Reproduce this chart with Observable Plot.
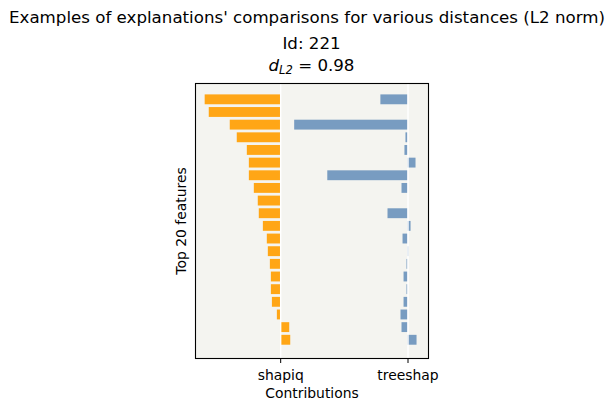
<!DOCTYPE html>
<html>
<head>
<meta charset="utf-8">
<script src="https://cdn.jsdelivr.net/npm/d3@7"></script>
<script src="https://cdn.jsdelivr.net/npm/@observablehq/plot@0.6"></script>
<style>
  body { margin: 0; background: white; }
  #wrap { position: relative; width: 614px; height: 411px; font-family: "DejaVu Sans", sans-serif; color: black; }
  .t { position: absolute; white-space: nowrap; font-size: 16.67px; line-height: 1; transform: translate(-50%, -50%); }
  #chart { position: absolute; left: 0; top: 0; }
</style>
</head>
<body>
<div id="wrap">
  <div id="chart"></div>
  <div class="t" style="left:307px; top:18px;">Examples of explanations' comparisons for various distances (L2 norm)</div>
  <div class="t" style="left:311.5px; top:44px;">Id: 221</div>
  <div class="t" style="left:311.5px; top:67px;"><i>d</i><sub style="font-size:11.5px; vertical-align:-3px;"><i>L2</i></sub> = 0.98</div>
</div>
<script>
// Methods compared, each drawn around its own x position
const groups = ["shapiq", "treeshap"];
const groupColors = ["#ffa616", "#789cc1"];

// Contributions of the top 20 features (rank 1 at the top)
const shapiq = [-0.593, -0.561, -0.396, -0.341, -0.262, -0.246, -0.246, -0.207, -0.176, -0.168,
                -0.136, -0.105, -0.097, -0.081, -0.073, -0.073, -0.065, -0.026, 0.071, 0.079];
const treeshap = [-0.213, 0, -0.890, -0.016, -0.024, 0.063, -0.630, -0.047, 0, -0.157,
                  0.024, -0.039, 0.008, -0.008, -0.031, -0.008, -0.031, -0.055, -0.047, 0.071];

const rows = [shapiq, treeshap].flatMap((vals, g) =>
  vals.map((v, i) => ({group: g, rank: i, value: v}))
);

const chart = Plot.plot({
  width: 614,
  height: 411,
  marginLeft: 195,
  marginRight: 186,
  marginTop: 83,
  marginBottom: 53,
  style: {fontFamily: "DejaVu Sans", fontSize: "13.9px", background: "transparent", color: "black"},
  x: {domain: [-0.669, 1.161]},
  y: {domain: [-1.29, 20.44], reverse: true, axis: null},
  marks: [
    Plot.frame({fill: "#f4f4f0", stroke: null}),
    Plot.rectX(rows, {
      x1: d => d.group,
      x2: d => d.group + d.value,
      y1: d => d.rank - 0.39,
      y2: d => d.rank + 0.39,
      fill: d => groupColors[d.group]
    }),
    Plot.ruleX([0, 1], {stroke: "white", strokeWidth: 1.4}),
    Plot.frame({stroke: "black", strokeWidth: 1.1}),
    Plot.axisX({ticks: [0, 1], tickFormat: i => groups[i], tickSize: 5, tickPadding: 7, label: null}),
    Plot.text(["Contributions"], {frameAnchor: "bottom", dy: 39, text: d => d, fontSize: 13.9}),
    Plot.text(["Top 20 features"], {frameAnchor: "left", dx: -14, rotate: -90, textAnchor: "middle", text: d => d, fontSize: 13.9})
  ]
});
document.getElementById("chart").appendChild(chart);
</script>
</body>
</html>
